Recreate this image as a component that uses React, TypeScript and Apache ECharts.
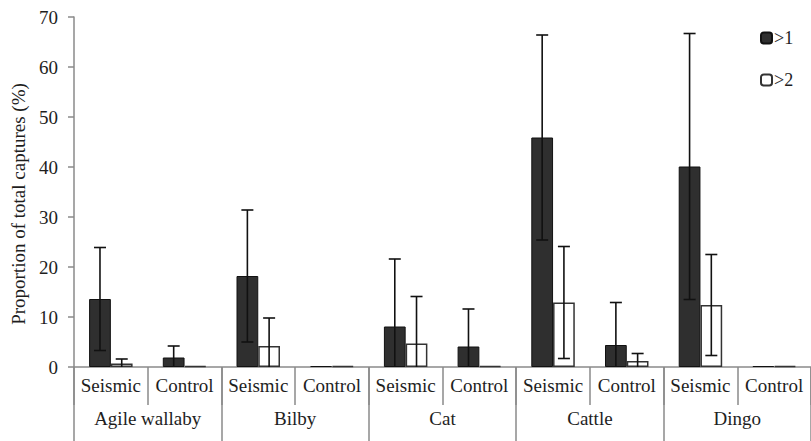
import React, { useEffect, useRef } from "react";
import * as echarts from "echarts";

const subCategories = ["Seismic", "Control", "Seismic", "Control", "Seismic", "Control", "Seismic", "Control", "Seismic", "Control"];
const groups = ["Agile wallaby", "Bilby", "Cat", "Cattle", "Dingo"];
const over1 = [13.6, 1.9, 18.2, 0, 8.1, 4.1, 45.9, 4.4, 40.1, 0];
const err1 = [10.3, 2.3, 13.2, 0, 13.5, 7.5, 20.5, 8.5, 26.6, 0];
const over2 = [0.7, 0, 4.2, 0, 4.7, 0, 12.9, 1.2, 12.4, 0];
const err2 = [0.9, 0, 5.6, 0, 9.4, 0, 11.2, 1.5, 10.1, 0];
const yTicks = { min: 0, max: 70, interval: 10 };

const FONT = "Times New Roman, Liberation Serif, serif";
const TEXT = "#1e1e1e";
const AXIS = "#8a8a8a";
const BAR_FRAC = 0.295;

function errSeries(values: number[], errs: number[], side: number) {
  return {
    type: "custom",
    xAxisIndex: 0,
    yAxisIndex: 0,
    clip: true,
    silent: true,
    z: 5,
    data: values.map((v, i) => [i, v, errs[i]]),
    encode: { x: 0, y: 1 },
    renderItem: (params: any, api: any) => {
      const i = api.value(0);
      const v = api.value(1);
      const e = api.value(2);
      if (!e) return { type: "group", children: [] };
      const band = api.size([1, 0])[0];
      const off = (side * band * BAR_FRAC) / 2;
      const hi = api.coord([i, v + e]);
      const lo = api.coord([i, v - e]);
      const x = hi[0] + off;
      const cap = 6;
      const style = { stroke: "#111", lineWidth: 1.6 };
      return {
        type: "group",
        children: [
          { type: "line", shape: { x1: x, y1: hi[1], x2: x, y2: lo[1] }, style },
          { type: "line", shape: { x1: x - cap, y1: hi[1], x2: x + cap, y2: hi[1] }, style },
          { type: "line", shape: { x1: x - cap, y1: lo[1], x2: x + cap, y2: lo[1] }, style },
        ],
      };
    },
  };
}

export default function App() {
  const ref = useRef<HTMLDivElement>(null);
  useEffect(() => {
    if (!ref.current) return;
    const chart = echarts.init(ref.current, undefined, { renderer: "svg" });
    chart.setOption({
      animation: false,
      backgroundColor: "#fff",
      textStyle: { fontFamily: FONT },
      grid: { left: 74, right: -10, top: 17, bottom: 74, containLabel: false },
      legend: {
        orient: "vertical",
        left: 755,
        top: 23,
        itemWidth: 11,
        itemHeight: 11,
        itemGap: 22,
        data: [">1", ">2"],
        textStyle: { fontFamily: FONT, fontSize: 18, color: TEXT, lineHeight: 20, padding: [0, 0, 0, -3] },
      },
      xAxis: [
        {
          type: "category",
          data: subCategories,
          position: "bottom",
          axisLine: { show: true, lineStyle: { color: AXIS, width: 1.5 } },
          axisTick: { show: true, interval: 0, length: 38, lineStyle: { color: AXIS, width: 1.5 } },
          axisLabel: { interval: 0, margin: 9, fontSize: 19, color: TEXT, fontFamily: FONT },
        },
        {
          type: "category",
          data: groups,
          position: "bottom",
          axisLine: { show: false },
          axisTick: { show: true, interval: 0, length: 74, lineStyle: { color: AXIS, width: 1.5 } },
          axisLabel: { interval: 0, margin: 42, fontSize: 19, color: TEXT, fontFamily: FONT },
        },
      ],
      yAxis: {
        type: "value",
        min: yTicks.min,
        max: yTicks.max,
        interval: yTicks.interval,
        name: "Proportion of total captures (%)",
        nameLocation: "middle",
        nameRotate: 90,
        nameGap: 39,
        nameTextStyle: { fontSize: 19, color: TEXT, fontFamily: FONT, padding: [0, 24, 0, 0] },
        axisLine: { show: true, lineStyle: { color: AXIS, width: 1.5 } },
        axisTick: { show: true, length: 6, lineStyle: { color: AXIS, width: 1.5 } },
        axisLabel: { fontSize: 19, color: TEXT, fontFamily: FONT, margin: 16 },
        splitLine: { show: false },
      },
      series: [
        {
          name: ">1",
          type: "bar",
          data: over1,
          barWidth: `${BAR_FRAC * 100}%`,
          barGap: "0%",
          barMinHeight: 1,
          itemStyle: { color: "#2f2f2f", borderColor: "#111", borderWidth: 1 },
        },
        {
          name: ">2",
          type: "bar",
          data: over2,
          barWidth: `${BAR_FRAC * 100}%`,
          barGap: "0%",
          barMinHeight: 1,
          itemStyle: { color: "#ffffff", borderColor: "#333", borderWidth: 1.5 },
        },
        errSeries(over1, err1, -1),
        errSeries(over2, err2, 1),
      ],
    });
    return () => chart.dispose();
  }, []);
  return <div ref={ref} style={{ width: 811, height: 441, position: "absolute", left: 0, top: 0 }} />;
}
